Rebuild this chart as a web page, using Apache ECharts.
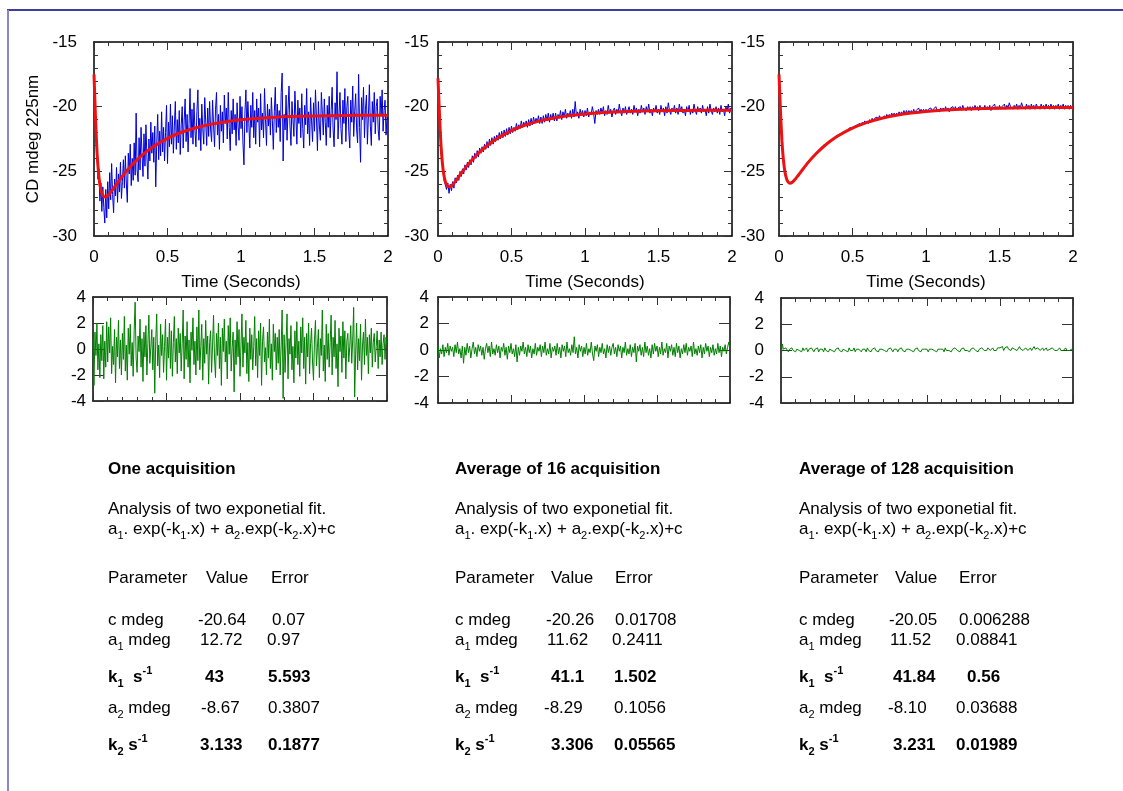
<!DOCTYPE html>
<html>
<head>
<meta charset="utf-8">
<script src="https://cdn.jsdelivr.net/npm/echarts@6/dist/echarts.min.js"></script>
<style>
html, body { margin: 0; padding: 0; background: #fff; }
#main { width: 1123px; height: 791px; }
</style>
</head>
<body>
<div id="main"></div>
<script>
// CD at 225 nm, samples evenly spaced over 0..2 s
var cd1 = [
  -17.6, -19.2, -22.4, -23.1, -25.6, -24.8, -27.3, -25.9, -28.1, -26.2, -27.8, -29.0, -26.4, -28.6, -25.8,
  -27.9, -25.1, -27.2, -24.4, -26.8, -28.2, -25.6, -26.9, -24.7, -27.4, -25.2, -26.6, -24.3, -27.1, -25.8,
  -24.1, -26.3, -23.8, -25.9, -27.4, -23.6, -25.2, -22.9, -26.1, -24.0, -25.7, -22.8, -25.3, -20.5, -24.9,
  -25.8, -22.4, -24.9, -21.6, -23.7, -25.4, -22.1, -24.6, -21.4, -23.9, -25.6, -22.5, -24.2, -21.2, -23.6,
  -22.0, -24.3, -21.5, -26.2, -22.8, -20.6, -24.1, -21.9, -23.8, -20.4, -23.5, -21.6, -24.2, -22.0, -19.9,
  -24.4, -21.2, -23.1, -19.8, -22.9, -20.7, -23.6, -21.5, -19.6, -23.3, -21.0, -22.8, -20.3, -23.7, -21.4,
  -20.0, -23.2, -21.1, -19.4, -22.7, -20.6, -23.5, -21.3, -18.6, -22.4, -20.2, -22.9, -19.7, -21.8, -23.1,
  -20.4, -18.7, -22.6, -20.9, -23.4, -19.8, -21.7, -22.9, -19.3, -21.2, -23.0, -20.1, -22.3, -19.6, -21.8,
  -22.7, -19.5, -21.4, -23.1, -20.2, -18.9, -22.2, -20.6, -23.3, -19.9, -21.9, -20.4, -22.8, -19.1, -21.3,
  -20.1, -22.5, -18.9, -21.6, -23.4, -20.3, -22.1, -19.4, -21.8, -20.6, -23.0, -19.7, -21.5, -22.6, -19.2,
  -21.7, -20.0, -22.8, -24.5, -20.5, -18.7, -22.0, -19.6, -21.3, -23.2, -19.9, -21.6, -18.9, -22.4, -20.3,
  -22.9, -19.4, -21.2, -20.1, -23.1, -19.0, -21.8, -20.5, -22.4, -18.6, -21.0, -23.0, -19.8, -21.5, -20.2,
  -22.2, -19.3, -21.1, -23.3, -20.4, -18.5, -22.0, -19.8, -21.6, -20.3, -22.7, -18.9, -17.4, -24.2, -20.6,
  -21.8, -19.1, -22.6, -20.2, -18.4, -21.5, -23.0, -19.6, -21.0, -22.3, -18.8, -20.7, -22.9, -19.5, -21.3,
  -20.1, -22.4, -19.0, -21.7, -23.2, -19.9, -21.4, -18.6, -22.1, -20.4, -23.0, -19.3, -21.1, -22.7, -19.7,
  -21.9, -18.7, -20.8, -23.4, -19.6, -21.5, -22.6, -18.9, -20.5, -22.2, -19.4, -21.2, -23.0, -19.9, -21.6,
  -19.2, -22.4, -20.3, -18.5, -21.8, -23.1, -19.7, -21.0, -17.3, -22.5, -20.6, -18.9, -21.7, -22.9, -19.5,
  -21.3, -18.6, -22.7, -20.0, -19.2, -21.9, -23.2, -19.5, -21.2, -18.4, -22.3, -20.4, -19.0, -21.8, -22.8,
  -17.5, -21.6, -24.3, -19.3, -21.0, -18.5, -22.4, -20.2, -19.1, -22.9, -20.7, -18.3, -21.5, -23.0, -19.6,
  -21.2, -18.9, -22.1, -20.0, -19.4, -21.8, -22.6, -19.2, -20.7, -18.7, -21.9, -20.3, -19.5, -22.2, -20.8, -21.0
];
var cd16 = [
  -17.8, -20.3, -22.0, -23.9, -24.5, -25.7, -25.6, -26.4, -25.9, -26.7, -26.0, -26.5,
  -25.8, -26.3, -25.5, -25.9, -25.3, -25.7, -25.0, -25.4, -24.8, -25.2, -24.5, -24.9,
  -24.3, -24.7, -24.1, -24.5, -23.8, -24.3, -23.6, -24.0, -23.4, -23.9, -23.2, -23.6,
  -23.1, -23.5, -22.9, -23.3, -22.7, -23.2, -22.5, -23.0, -22.4, -22.9, -22.3, -22.7,
  -22.2, -22.6, -22.0, -22.5, -21.9, -22.4, -21.8, -22.3, -21.7, -22.2, -21.6, -22.1,
  -21.5, -22.0, -21.6, -21.9, -21.3, -21.8, -21.4, -21.7, -21.1, -21.6, -21.2, -21.5,
  -21.1, -21.6, -21.0, -21.5, -20.9, -21.4, -20.8, -21.3, -20.9, -21.2, -20.7, -21.3,
  -20.8, -21.3, -20.7, -21.2, -20.6, -21.1, -20.5, -21.2, -20.6, -21.0, -20.5, -21.1,
  -20.5, -21.1, -20.6, -20.9, -20.3, -21.0, -20.4, -20.8, -20.2, -20.9, -20.5, -20.8,
  -20.3, -20.9, -20.2, -20.8, -19.6, -20.7, -20.4, -20.9, -20.2, -20.6, -20.3, -20.8,
  -20.3, -20.7, -20.1, -20.8, -20.4, -20.6, -20.0, -20.5, -21.3, -20.3, -20.6, -20.2,
  -20.6, -20.1, -20.5, -20.0, -20.7, -20.3, -20.6, -19.9, -20.5, -20.2, -20.8, -20.3,
  -20.1, -20.6, -20.2, -20.5, -19.8, -20.4, -20.7, -20.1, -20.5, -20.0, -20.6, -20.3,
  -20.0, -20.5, -20.2, -20.6, -19.9, -20.4, -20.1, -20.7, -20.2, -20.5, -19.9, -20.4,
  -20.1, -20.6, -20.0, -20.4, -19.8, -20.5, -20.2, -20.7, -20.1, -20.4, -19.9, -20.5,
  -20.2, -20.6, -19.9, -20.4, -20.1, -20.7, -20.0, -20.5, -19.7, -20.3, -20.6, -20.1,
  -20.4, -19.9, -20.5, -20.1, -20.6, -19.8, -20.3, -20.0, -20.5, -20.2, -20.7, -20.0,
  -20.4, -19.9, -20.6, -20.2, -20.5, -19.8, -20.3, -20.6, -20.0, -20.4, -20.1, -20.5,
  -19.9, -20.4, -20.2, -20.7, -20.0, -20.5, -19.8, -20.3, -20.6, -20.1, -20.4, -20.0,
  -20.5, -20.1, -20.6, -19.9, -20.4, -20.2, -20.7, -20.0, -20.3, -19.8, -20.5, -20.1, -20.3
];
var cd128 = [
  -17.5, -19.9, -21.9, -23.6, -24.4, -25.2, -25.5, -25.8, -25.9, -26.0, -25.8, -25.9,
  -25.7, -25.7, -25.5, -25.4, -25.2, -25.2, -25.0, -24.9, -24.8, -24.6, -24.5, -24.4,
  -24.2, -24.3, -24.0, -24.0, -23.8, -23.8, -23.6, -23.6, -23.4, -23.5, -23.2, -23.3,
  -23.0, -23.1, -22.9, -23.0, -22.8, -22.9, -22.6, -22.7, -22.5, -22.6, -22.3, -22.4,
  -22.2, -22.3, -22.1, -22.2, -22.0, -22.1, -21.9, -22.0, -21.8, -21.9, -21.6, -21.8,
  -21.6, -21.7, -21.5, -21.6, -21.4, -21.5, -21.3, -21.5, -21.2, -21.4, -21.1, -21.3,
  -21.1, -21.3, -21.0, -21.2, -20.9, -21.1, -20.9, -21.0, -20.8, -21.0, -20.7, -20.9,
  -20.8, -20.9, -20.7, -20.9, -20.6, -20.8, -20.6, -20.8, -20.5, -20.7, -20.5, -20.7,
  -20.5, -20.7, -20.4, -20.6, -20.4, -20.6, -20.3, -20.6, -20.3, -20.5, -20.3, -20.5,
  -20.3, -20.5, -20.2, -20.5, -20.3, -20.4, -20.1, -20.4, -20.2, -20.4, -20.2, -20.4,
  -20.2, -20.4, -20.2, -20.3, -20.1, -20.4, -20.2, -20.3, -20.0, -20.3, -20.2, -20.4,
  -20.1, -20.3, -20.1, -20.3, -20.0, -20.3, -20.1, -20.4, -20.1, -20.2, -20.0, -20.3,
  -20.0, -20.3, -20.1, -20.2, -20.0, -20.3, -19.9, -20.2, -20.1, -20.3, -20.0, -20.2,
  -20.0, -20.3, -20.0, -20.2, -19.9, -20.2, -20.0, -20.3, -19.9, -20.2, -20.1, -20.2,
  -19.9, -20.2, -20.0, -20.2, -19.9, -20.3, -20.0, -20.1, -19.8, -20.2, -20.0, -20.2,
  -19.9, -20.2, -20.0, -20.1, -19.8, -20.2, -19.9, -20.1, -19.7, -20.0, -19.9, -20.2,
  -19.9, -20.1, -19.8, -20.2, -19.9, -20.1, -19.7, -20.0, -19.9, -20.2, -19.8, -20.1,
  -19.9, -20.2, -19.8, -20.1, -19.9, -20.2, -19.8, -20.0, -19.9, -20.2, -19.8, -20.1,
  -19.9, -20.2, -19.8, -20.1, -19.9, -20.2, -19.8, -20.1, -19.9, -20.2, -19.9, -20.1,
  -19.8, -20.2, -19.9, -20.1, -19.8, -20.2, -19.9, -20.1, -19.9, -20.2, -19.9, -20.1, -20.0
];

// residuals (data - fit), same sampling
var res1 = [
  0.8, -2.8, 1.3, -0.5, 2.0, -1.6, 0.4, -2.2, 1.1, -0.9, 1.8, -2.3, 0.6, -1.4, 2.1,
  -1.0, 1.7, -0.3, 2.4, -1.9, 0.2, -1.2, 1.5, -2.6, 0.9, -0.6, 2.2, -1.5, 0.7, -2.0,
  1.2, -0.8, 2.5, -1.7, 0.3, -2.4, 1.6, -0.4, 1.9, -1.3, 0.5, -2.1, 1.4, 3.6, -0.7,
  -1.8, 1.0, -0.2, 2.3, -1.4, 0.8, -2.5, 1.3, -0.6, 1.8, -2.0, 0.4, 2.6, -1.1, 0.1,
  1.5, -1.6, 0.9, -3.4, 0.6, 2.7, -1.3, 0.3, -2.2, 1.9, -0.5, 1.1, -1.8, 0.2, 2.3,
  -2.4, 0.9, -0.7, 2.0, -1.5, 1.4, -2.1, 0.5, 2.5, -1.0, 0.8, -1.9, 1.6, -0.3, 1.2,
  -1.7, 0.4, 3.0, -2.3, 1.0, -0.8, 2.1, -1.4, 0.7, -2.6, 1.3, -0.1, 2.4, -1.2, 0.6,
  -2.0, 1.7, -0.9, 3.0, -1.6, 0.2, 1.9, -2.4, 0.8, -1.1, 2.2, -0.4, 1.0, -2.7, 0.5,
  1.4, -1.8, 0.3, 2.6, -0.7, -2.2, 1.2, -0.5, 2.0, -1.5, 0.9, -2.8, 1.6, -0.2, 2.3,
  -1.0, 0.6, -2.3, 1.8, -0.4, 2.4, -1.7, 0.1, 1.3, -3.3, 0.7, -1.2, 2.1, -0.6, 1.5,
  -2.1, 0.3, 2.7, -1.4, 0.9, -0.3, 2.2, -1.9, 0.5, -2.5, 1.6, -0.8, 1.1, -1.6, 0.2,
  2.5, -1.3, 0.8, -2.2, 1.4, -0.5, 2.0, -2.8, 0.6, 1.7, -1.0, 0.1, -2.0, 1.3, -0.7,
  2.3, -1.5, 0.4, -2.4, 1.9, -0.2, 1.2, -1.6, 0.9, -1.1, 1.5, -2.0, 0.3, 3.0, -3.8,
  1.1, -1.8, 0.5, 2.7, -2.3, 0.8, -0.4, 1.8, -1.6, 0.2, -2.6, 1.4, -0.7, 2.1, -1.2,
  0.6, -2.1, 1.7, -0.3, 2.4, -1.5, 0.9, -2.7, 1.2, -0.6, 2.0, -1.9, 0.4, 1.6, -1.0,
  -2.4, 0.7, 2.2, -1.3, 0.1, 1.5, -2.2, 0.8, -0.5, 3.0, -1.7, 0.3, -2.5, 1.9, -0.8,
  1.2, -1.4, 0.5, 2.6, -2.0, 0.9, -0.6, 2.2, -1.5, 0.4, -2.9, 1.6, -0.2, 1.0, -1.8,
  2.1, -0.7, 1.4, -2.3, 0.6, 1.2, -1.0, 0.2, 1.8, -1.1, 0.7, 3.2, -3.7, -0.4, 2.0,
  -1.6, 0.8, -0.9, 1.9, -2.4, 0.3, 1.3, -1.2, 2.3, -0.5, 0.9, -1.9, 1.1, -0.3, 1.6,
  -1.4, 0.5, 1.2, -1.0, 0.2, 1.4, -1.5, 0.7, -0.6, 1.3, -1.2, 0.4, 1.1, -0.8, 0.9, 0.3
];
var res16 = [
  0.3, -0.6, 0.1, -0.3, 0.4, -0.5, 0.2, -0.2, 0.5, -0.4, 0.3, -0.1,
  0.2, -0.5, 0.4, -0.2, 0.6, -0.3, 0.1, -0.6, 0.3, -1.0, 0.2, -0.4,
  0.5, -0.2, 0.3, -0.6, 0.1, 0.6, -0.3, 0.2, -0.5, 0.4, -0.1, 0.3,
  -0.4, 0.2, -0.7, 0.1, 0.5, -0.2, 0.3, -0.5, 0.6, -0.3, 0.1, -0.4,
  0.4, -0.2, 0.3, -0.6, 0.2, -0.1, 0.5, -0.4, 0.2, -0.7, 0.3, -0.2,
  0.5, -0.3, 0.1, -0.5, 0.4, -0.9, 0.2, -0.4, 0.3, -0.1, 0.6, -0.3,
  0.2, -0.5, 0.4, -0.2, 0.3, -0.6, 0.1, -0.3, 0.5, -0.4, 0.2, -0.1,
  0.4, -0.5, 0.3, -0.2, 0.6, -0.4, 0.1, -0.3, 0.5, -0.6, 0.2, -0.1,
  0.3, -0.4, 0.5, -0.3, 0.2, -0.6, 0.4, -0.1, 0.3, -0.5, 0.6, -0.2,
  0.1, -0.4, 0.4, -0.2, 1.0, -0.3, 0.2, -0.6, 0.4, -0.1, 0.3, -0.5,
  0.2, -0.3, 0.5, -0.4, 0.1, -0.2, 0.6, -0.3, -0.8, 0.3, -0.1, 0.4,
  -0.5, 0.2, -0.2, 0.5, -0.3, 0.1, -0.6, 0.4, -0.2, 0.3, -0.4, 0.2,
  0.5, -0.3, 0.2, -0.5, 0.4, -0.1, 0.3, -0.6, 0.2, -0.2, 0.6, -0.4,
  0.1, -0.3, 0.4, -0.5, 0.2, -0.2, 0.5, -0.9, 0.3, -0.1, 0.4, -0.4,
  0.2, -0.5, 0.6, -0.2, 0.3, -0.4, 0.1, -0.6, 0.4, -0.3, 0.5, -0.1,
  0.3, -0.5, 0.2, -0.3, 0.6, -0.4, 0.1, -0.2, 0.5, -0.6, 0.3, -0.1,
  0.4, -0.4, 0.2, -0.5, 0.5, -0.2, 0.3, -0.6, 0.1, -0.3, 0.4, -0.2,
  0.5, -0.4, 0.2, -0.1, 0.3, -0.5, 0.6, -0.3, 0.1, -0.4, 0.3, -0.2,
  0.4, -0.6, 0.2, -0.3, 0.5, -0.1, 0.3, -0.5, 0.2, -0.2, 0.4, -0.4,
  0.1, -0.3, 0.5, -0.2, 0.3, -0.5, 0.2, -0.1, 0.4, -0.3, 0.2, 0.6, 0.1
];
var res128 = [
  -0.8, 0.5, 0.1, 0.0, 0.2, 0.1, -0.1, 0.1, 0.0, 0.2, 0.0, 0.1,
  -0.1, 0.1, 0.2, 0.0, 0.1, -0.1, 0.2, 0.0, 0.1, 0.2, -0.1, 0.1,
  0.0, 0.2, 0.1, -0.1, 0.1, 0.0, 0.2, -0.1, 0.1, 0.0, 0.1, -0.1,
  0.2, 0.0, 0.1, -0.1, 0.1, 0.2, 0.0, 0.1, -0.1, 0.1, 0.0, 0.2,
  0.0, 0.1, -0.1, 0.1, 0.2, 0.0, 0.1, -0.1, 0.2, 0.0, 0.1, 0.0,
  0.2, -0.1, 0.1, 0.0, 0.1, 0.2, -0.1, 0.1, 0.0, 0.1, -0.1, 0.2,
  0.0, 0.1, -0.1, 0.1, 0.0, 0.2, 0.0, 0.1, -0.1, 0.1, 0.0, 0.1,
  0.2, 0.0, 0.1, -0.1, 0.1, 0.0, 0.2, 0.1, -0.1, 0.1, 0.0, 0.1,
  -0.1, 0.1, 0.0, 0.2, 0.0, 0.1, -0.1, 0.1, 0.0, 0.1, 0.2, 0.0,
  0.1, -0.1, 0.1, 0.0, 0.2, 0.0, 0.1, -0.1, 0.1, 0.0, 0.1, 0.0,
  0.1, -0.1, 0.1, 0.0, 0.1, 0.2, 0.0, 0.1, -0.1, 0.1, 0.0, 0.1,
  0.0, 0.1, -0.1, 0.2, 0.0, 0.1, 0.0, 0.1, -0.1, 0.1, 0.0, 0.2,
  0.1, 0.0, 0.1, -0.1, 0.1, 0.0, 0.2, 0.0, 0.1, 0.0, 0.1, -0.1,
  0.1, 0.0, 0.2, 0.1, 0.0, 0.1, -0.1, 0.1, 0.0, 0.2, 0.1, 0.0,
  0.1, 0.0, 0.2, 0.1, 0.0, 0.1, 0.2, 0.0, 0.1, 0.0, 0.2, 0.1,
  0.2, 0.1, 0.3, 0.0, 0.2, 0.1, 0.3, 0.1, 0.2, 0.0, 0.2, 0.1,
  0.1, 0.2, 0.0, 0.1, 0.3, 0.1, 0.2, 0.0, 0.1, 0.2, 0.1, 0.0,
  0.1, 0.2, 0.0, 0.1, 0.3, 0.1, 0.0, 0.2, 0.1, 0.0, 0.1, 0.2,
  0.0, 0.1, 0.2, 0.0, 0.1, 0.1, 0.0, 0.2, 0.1, 0.0, 0.1, 0.0,
  0.1, 0.2, 0.0, 0.1, 0.0, 0.1, 0.2, 0.0, 0.1, 0.0, 0.1, 0.1, 0.1
];

// two-exponential fit curves
var fitT = [0, 0.01, 0.02, 0.03, 0.04, 0.05, 0.06, 0.075, 0.09, 0.11, 0.13, 0.15, 0.2, 0.25, 0.3, 0.35, 0.4, 0.5, 0.6, 0.7, 0.8, 0.9, 1.0, 1.2, 1.4, 1.6, 1.8, 2.0];
var fit1 = [-17.5, -20.77, -23.40, -25.03, -26.01, -26.57, -26.86, -26.99, -26.92, -26.67, -26.36, -26.04, -25.27, -24.60, -24.03, -23.54, -23.12, -22.45, -21.96, -21.61, -21.35, -21.16, -21.02, -20.84, -20.75, -20.70, -20.67, -20.66];
var fit16 = [-17.8, -20.58, -22.91, -24.38, -25.28, -25.80, -26.07, -26.20, -26.13, -25.90, -25.60, -25.28, -24.54, -23.89, -23.34, -22.87, -22.47, -21.85, -21.40, -21.08, -20.85, -20.68, -20.56, -20.42, -20.34, -20.30, -20.28, -20.27];
var fit128 = [-17.5, -20.31, -22.65, -24.12, -25.01, -25.52, -25.79, -25.91, -25.84, -25.61, -25.32, -25.02, -24.29, -23.66, -23.12, -22.66, -22.27, -21.66, -21.22, -20.89, -20.66, -20.49, -20.37, -20.22, -20.14, -20.10, -20.07, -20.06];

var panelTitles = ['One acquisition', 'Average of 16 acquisition', 'Average of 128 acquisition'];
var paramValues = [
  ['-20.64', '12.72', '43', '-8.67', '3.133'],
  ['-20.26', '11.62', '41.1', '-8.29', '3.306'],
  ['-20.05', '11.52', '41.84', '-8.10', '3.231']
];
var paramErrors = [
  ['0.07', '0.97', '5.593', '0.3807', '0.1877'],
  ['0.01708', '0.2411', '1.502', '0.1056', '0.05565'],
  ['0.006288', '0.08841', '0.56', '0.03688', '0.01989']
];

var F = '"Liberation Sans", Arial, Helvetica, sans-serif';

function sampled(values) {
  var step = 2 / (values.length - 1);
  return values.map(function (v, i) { return [i * step, v]; });
}
function paired(xs, ys) {
  return xs.map(function (x, i) { return [x, ys[i]]; });
}

var grids = [
  { left: 94, top: 42, width: 294, height: 194 },
  { left: 438, top: 42, width: 294, height: 194 },
  { left: 779, top: 42, width: 294, height: 194 },
  { left: 93, top: 297, width: 294, height: 104 },
  { left: 438, top: 297, width: 292, height: 106 },
  { left: 781, top: 298, width: 292, height: 105 }
];

var lineBlack = { color: '#000', width: 1.5 };
var tickGrey = { color: '#333', width: 1 };

function xPair(gi, main) {
  var axes = [];
  ['bottom', 'top'].forEach(function (pos, k) {
    axes.push({
      type: 'value', gridIndex: gi, position: pos, min: 0, max: 2, interval: 0.5,
      axisLine: { show: true, onZero: false, lineStyle: lineBlack },
      axisTick: { show: true, inside: true, length: 8, lineStyle: tickGrey },
      minorTick: { show: true, splitNumber: 5, length: 4, lineStyle: tickGrey },
      splitLine: { show: false },
      axisLabel: { show: main && k === 0, fontSize: 17, color: '#000', fontFamily: F, margin: 13 },
      name: main && k === 0 ? 'Time (Seconds)' : '',
      nameLocation: 'middle', nameGap: 38,
      nameTextStyle: { fontSize: 17, color: '#000', fontFamily: F }
    });
  });
  return axes;
}

function yPair(gi, main, margin, pad, name) {
  var axes = [];
  ['left', 'right'].forEach(function (pos, k) {
    axes.push({
      type: 'value', gridIndex: gi, position: pos,
      min: main ? -30 : -4, max: main ? -15 : 4, interval: main ? 5 : 2,
      axisLine: { show: true, onZero: false, lineStyle: lineBlack },
      axisTick: { show: true, inside: true, length: main ? 8 : 11, lineStyle: tickGrey },
      minorTick: { show: main, splitNumber: 5, length: 4, lineStyle: tickGrey },
      splitLine: { show: false },
      axisLabel: { show: k === 0, fontSize: 17, color: '#000', fontFamily: F, margin: margin, padding: pad },
      name: k === 0 && name ? name : '',
      nameLocation: 'middle', nameGap: 52,
      nameTextStyle: { fontSize: 17, color: '#000', fontFamily: F }
    });
  });
  return axes;
}

var xAxis = [], yAxis = [];
var yMargins = [17, 9, 14, 7, 9, 17];
var yPads = [[7, 0, 0, 0], 0, [5, 0, 0, 0], [0, 0, 7, 0], 0, [6, 0, 0, 0]];
grids.forEach(function (g, gi) {
  var main = gi < 3;
  xAxis = xAxis.concat(xPair(gi, main));
  yAxis = yAxis.concat(yPair(gi, main, yMargins[gi], yPads[gi], gi === 0 ? 'CD mdeg 225nm' : ''));
});

function trace(gi, data, color, width, smooth) {
  return {
    type: 'line', xAxisIndex: gi * 2, yAxisIndex: gi * 2, data: data,
    showSymbol: false, symbol: 'none', smooth: smooth || false, silent: true,
    lineStyle: { color: color, width: width }
  };
}

var BLUE = '#0000d8', RED = '#ee1111', GREEN = '#008000';
var series = [
  trace(0, sampled(cd1), BLUE, 1),
  trace(0, paired(fitT, fit1), RED, 3, 0.25),
  trace(1, sampled(cd16), BLUE, 1),
  trace(1, paired(fitT, fit16), RED, 3, 0.25),
  trace(2, sampled(cd128), BLUE, 1),
  trace(2, paired(fitT, fit128), RED, 3, 0.25),
  trace(3, sampled(res1), GREEN, 1),
  trace(4, sampled(res16), GREEN, 1),
  trace(5, sampled(res128), GREEN, 1)
];

// fit report text under each column
var rich = {
  n: { fontSize: 17, fontFamily: F, lineHeight: 24, fill: '#000' },
  s: { fontSize: 11, fontFamily: F, lineHeight: 3, verticalAlign: 'bottom', fill: '#000' },
  b: { fontSize: 17, fontFamily: F, fontWeight: 'bold', lineHeight: 24, fill: '#000' },
  bs: { fontSize: 11, fontFamily: F, fontWeight: 'bold', lineHeight: 4, verticalAlign: 'bottom', fill: '#000' },
  bp: { fontSize: 11, fontFamily: F, fontWeight: 'bold', lineHeight: 12, verticalAlign: 'top', fill: '#000' }
};
var paramLabels = [
  '{n|c mdeg}',
  '{n|a}{s|1}{n| mdeg}',
  '{b|k}{bs|1}{b|  s}{bp|-1}',
  '{n|a}{s|2}{n| mdeg}',
  '{b|k}{bs|2}{b| s}{bp|-1}'
];
var formula = '{n|a}{s|1}{n|. exp(-k}{s|1}{n|.x) + a}{s|2}{n|.exp(-k}{s|2}{n|.x)+c}';
var boldRow = [false, false, true, false, true];

var textX = [108, 455, 799];
var rowY = [620, 640, 677, 708, 745];
var headDx = [[0, 98, 163], [0, 96, 160], [0, 96, 160]];
var valDx = [[90, 92, 97, 93, 92], [91, 92, 96, 89, 96], [90, 91, 94, 89, 94]];
var errDx = [[164, 159, 160, 160, 160], [160, 157, 159, 159, 159], [160, 157, 168, 157, 157]];

function txt(x, y, text, bold) {
  return {
    type: 'text', x: x, y: y, silent: true,
    style: {
      text: text, fill: '#000', fontSize: 17, fontFamily: F,
      fontWeight: bold ? 'bold' : 'normal', align: 'left', verticalAlign: 'middle'
    }
  };
}
function richTxt(x, y, text) {
  return {
    type: 'text', x: x, y: y, silent: true,
    style: { text: text, rich: rich, fontSize: 17, fontFamily: F, fill: '#000', align: 'left', verticalAlign: 'middle' }
  };
}

var graphics = [
  { type: 'line', silent: true, shape: { x1: 7, y1: 10, x2: 1123, y2: 10 }, style: { stroke: '#3c3ca2', lineWidth: 2 } },
  { type: 'line', silent: true, shape: { x1: 8, y1: 10, x2: 8, y2: 791 }, style: { stroke: '#8686cc', lineWidth: 2 } }
];
for (var p = 0; p < 3; p++) {
  var x0 = textX[p];
  graphics.push(txt(x0, 469, panelTitles[p], true));
  graphics.push(txt(x0, 509, 'Analysis of two exponetial fit.', false));
  graphics.push(richTxt(x0, 529, formula));
  graphics.push(txt(x0 + headDx[p][0], 578, 'Parameter', false));
  graphics.push(txt(x0 + headDx[p][1], 578, 'Value', false));
  graphics.push(txt(x0 + headDx[p][2], 578, 'Error', false));
  for (var r = 0; r < 5; r++) {
    graphics.push(richTxt(x0, rowY[r], paramLabels[r]));
    graphics.push(txt(x0 + valDx[p][r], rowY[r], paramValues[p][r], boldRow[r]));
    graphics.push(txt(x0 + errDx[p][r], rowY[r], paramErrors[p][r], boldRow[r]));
  }
}

var chart = echarts.init(document.getElementById('main'));
chart.setOption({
  animation: false,
  backgroundColor: '#fff',
  grid: grids,
  xAxis: xAxis,
  yAxis: yAxis,
  series: series,
  graphic: graphics
});
</script>
</body>
</html>
